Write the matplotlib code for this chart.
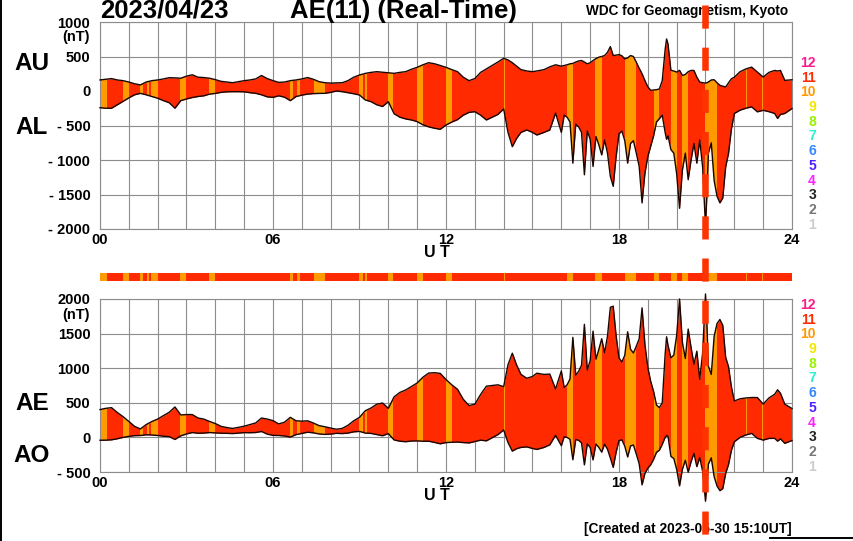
"""
AE(11) real-time geomagnetic index plot (WDC Kyoto style).

Top panel: AU / AL envelope, bottom panel: AE / AO envelope,
both shaded by number of contributing stations.
"""

import matplotlib
matplotlib.use("Agg")  # headless
import matplotlib.pyplot as plt
import numpy as np
from matplotlib.lines import Line2D
from matplotlib.patches import Rectangle
from matplotlib.transforms import blended_transform_factory

plt.rcParams["font.family"] = ["Liberation Sans", "DejaVu Sans"]
plt.rcParams["font.weight"] = "bold"

# --- data --------------------------------------------------------------
ut = [0.0, 0.2, 0.4, 0.6, 0.8, 1.0, 1.2, 1.4, 1.6, 1.8,
      2.0, 2.2, 2.4, 2.6, 2.8, 3.0, 3.2, 3.4, 3.6, 3.8,
      4.0, 4.2, 4.4, 4.6, 4.8, 5.0, 5.2, 5.4, 5.6, 5.8,
      6.0, 6.2, 6.4, 6.6, 6.8, 7.0, 7.2, 7.4, 7.6, 7.8,
      8.0, 8.2, 8.4, 8.6, 8.8, 9.0, 9.2, 9.4, 9.6, 9.8,
      10.0, 10.2, 10.4, 10.6, 10.8, 11.0, 11.2, 11.4, 11.6, 11.8,
      12.0, 12.2, 12.4, 12.6, 12.8, 13.0, 13.2, 13.4, 13.6, 13.8,
      14.0, 14.15, 14.3, 14.45, 14.6, 14.8, 15.0, 15.15, 15.4, 15.6, 15.8,
      16.0, 16.1, 16.2, 16.3, 16.4, 16.5, 16.6, 16.7, 16.8, 16.9,
      17.0, 17.1, 17.2, 17.3, 17.4, 17.5, 17.6, 17.7, 17.8, 17.9,
      18.0, 18.1, 18.2, 18.3, 18.4, 18.5, 18.6, 18.7, 18.8, 18.9,
      19.0, 19.1, 19.2, 19.3, 19.4, 19.5, 19.6, 19.65, 19.7, 19.8, 19.9,
      20.0, 20.1, 20.2, 20.3, 20.4, 20.5, 20.6, 20.7, 20.8, 20.9,
      21.0, 21.05, 21.1, 21.2, 21.3, 21.4, 21.5, 21.6, 21.7, 21.8, 21.9,
      22.0, 22.2, 22.4, 22.6, 22.8, 23.0, 23.2, 23.4, 23.5, 23.6, 23.75, 24.0]

au = [160, 170, 180, 160, 150, 130, 105, 88, 130, 150,
      160, 175, 193, 190, 185, 215, 235, 200, 195, 185,
      165, 140, 130, 120, 135, 150, 160, 175, 225, 180,
      150, 125, 130, 150, 160, 175, 195, 170, 135, 120,
      115, 118, 120, 150, 200, 232, 255, 270, 280, 272,
      265, 256, 270, 280, 315, 343, 380, 410, 395, 370,
      343, 310, 280, 200, 150, 180, 270, 320, 370, 420,
      474, 450, 410, 360, 310, 290, 280, 290, 310, 350, 380,
      360, 370, 380, 394, 400, 420, 435, 442, 420, 394,
      410, 442, 470, 490, 500, 514, 560, 643, 514, 520,
      528, 510, 466, 480, 514, 500, 418, 330, 250, 150,
      60, 10, 15, 19, 30, 150, 600, 754, 682, 300, 290,
      274, 300, 226, 240, 280, 298, 298, 200, 130, 120,
      115, 120, 130, 160, 163, 120, 82, 70, 58, 120, 178,
      200, 280, 320, 346, 274, 202, 270, 298, 290, 298, 154, 163]

al = [-242, -250, -250, -200, -150, -100, -55, -34, -55, -80,
      -105, -140, -170, -250, -140, -115, -95, -80, -70, -45,
      -35, -20, -12, -10, -10, -12, -25, -34, -55, -85,
      -92, -70, -90, -140, -80, -60, -45, -38, -35, -34,
      -20, 0, -10, -25, -40, -58, -130, -155, -200, -225,
      -155, -330, -380, -405, -420, -444, -490, -520, -540, -555,
      -493, -450, -415, -350, -310, -300, -350, -420, -380, -340,
      -260, -600, -807, -686, -600, -565, -600, -638, -600, -565, -320,
      -600, -350, -380, -450, -1046, -480, -520, -600, -1214, -580,
      -700, -1094, -660, -780, -926, -710, -900, -1238, -1382, -950,
      -620, -580, -720, -1046, -760, -720, -900, -1094, -1622, -1190,
      -950, -800, -650, -450, -400, -350, -600, -700, -650, -850, -900,
      -1200, -1700, -1142, -900, -1286, -1000, -760, -1046, -710, -1100,
      -1958, -1500, -900, -750, -1300, -1526, -1622, -1550, -1100, -900, -550,
      -326, -278, -250, -230, -302, -280, -300, -326, -398, -340, -326, -254]

# intervals (UT hours) where only 10 stations contributed; the rest are 11
ten_station_spans = [(0.0, 0.23), (0.8, 1.0), (1.38, 1.48), (1.63, 1.7),
                     (1.78, 2.0), (2.78, 3.0), (3.78, 4.0), (6.6, 6.7),
                     (6.83, 6.93), (7.42, 7.8), (9.0, 9.12), (9.2, 9.25),
                     (10.0, 10.17), (11.0, 11.2), (12.0, 12.2), (14.0, 14.03),
                     (16.2, 16.4), (17.17, 17.4), (18.2, 18.6), (19.2, 19.4),
                     (19.8, 20.0), (20.2, 20.4), (21.0, 21.4), (22.4, 22.45),
                     (22.95, 23.0)]

marker_ut = 21.0  # current-time marker

station_labels = ["12", "11", "10", "9", "8", "7", "6", "5", "4", "3", "2", "1"]
station_colors = ["#ff1a8c", "#ff2a00", "#ff9900", "#f2e600", "#99f000", "#2ef0d0",
                  "#3388ff", "#5020ff", "#ff22ff", "#222222", "#777777", "#cccccc"]

RED = "#ff2a00"
ORANGE = "#ff9a00"
EDGE = "#1a0500"
GRID = "#8c8c8c"

W, H = 854, 541


def fx(x):
    return x / W


def fy(y):
    return 1 - y / H


def draw_envelope(ax, upper, lower, yticks, ylabels):
    poly = ax.fill_between(ut, lower, upper, color=RED, lw=0, clip_on=False, zorder=2)
    path = poly.get_paths()[0]
    for s, e in ten_station_spans:
        r = Rectangle((s, -5000), e - s, 10000, facecolor=ORANGE, lw=0, zorder=2.1)
        ax.add_patch(r)
        r.set_clip_box(None)
        r.set_clip_path(path, ax.transData)
    ax.plot(ut, upper, color=EDGE, lw=1.0, clip_on=False, zorder=3)
    ax.plot(ut, lower, color=EDGE, lw=1.0, clip_on=False, zorder=3)

    ax.set_xlim(0, 24)
    ax.set_ylim(yticks[0], yticks[-1])
    ax.set_xticks(range(0, 25, 6))
    ax.set_xticklabels(["00", "06", "12", "18", "24"], fontsize=10.5, fontweight="bold")
    ax.set_xticks(range(25), minor=True)
    ax.set_yticks(yticks)
    ax.set_yticklabels(ylabels, fontsize=10.5, fontweight="bold")
    ax.tick_params(which="both", length=0)
    ax.tick_params(axis="y", pad=7)
    ax.tick_params(axis="x", pad=3)
    ax.grid(which="both", axis="x", color=GRID, lw=0.8)
    ax.grid(which="major", axis="y", color=GRID, lw=0.8)
    ax.set_axisbelow(True)
    for sp in ax.spines.values():
        sp.set_color(GRID)
        sp.set_linewidth(0.8)


def station_key(fig, y_top):
    for i, (lab, col) in enumerate(zip(station_labels, station_colors)):
        fig.text(fx(816), fy(y_top + i * 14.7), lab, color=col, fontsize=10,
                 fontweight="bold", ha="right", va="center")


fig = plt.figure(figsize=(W / 100, H / 100), dpi=100)

ax_top = fig.add_axes([fx(100), fy(229), fx(692), 207 / H])
ax_bar = fig.add_axes([fx(100), fy(281), fx(692), 8 / H])
ax_bot = fig.add_axes([fx(100), fy(472), fx(692), 173 / H])

au_arr = np.array(au, dtype=float)
al_arr = np.array(al, dtype=float)
ae = au_arr - al_arr
ao = (au_arr + al_arr) / 2

draw_envelope(ax_top, au_arr, al_arr, [-2000, -1500, -1000, -500, 0, 500, 1000],
              ["- 2000", "- 1500", "- 1000", "- 500", "0", "500", "1000"])
draw_envelope(ax_bot, ae, ao, [-500, 0, 500, 1000, 1500, 2000],
              ["- 500", "0", "500", "1000", "1500", "2000"])

# station-count strip between the panels
ax_bar.axvspan(0, 24, color=RED, lw=0)
for s, e in ten_station_spans:
    ax_bar.axvspan(s, e, color=ORANGE, lw=0)
ax_bar.set_xlim(0, 24)
ax_bar.set_ylim(0, 1)
ax_bar.axis("off")

# texts
fig.text(fx(100), fy(18), "2023/04/23", fontsize=18.5, fontweight="bold", va="baseline")
fig.text(fx(290), fy(18), "AE(11) (Real-Time)", fontsize=18.5, fontweight="bold", va="baseline")
fig.text(fx(788), fy(15), "WDC for Geomagnetism, Kyoto", fontsize=9.8,
         fontweight="bold", ha="right", va="baseline")
fig.text(fx(792), fy(533), "[Created at 2023-05-30 15:10UT]", fontsize=9.9,
         fontweight="bold", ha="right", va="baseline")
for y in (37, 315):
    fig.text(fx(90), fy(y), "(nT)", fontsize=10.5, fontweight="bold", ha="right", va="center")
for y in (253, 496):
    fig.text(fx(437), fy(y), "U T", fontsize=11.5, fontweight="bold", ha="center", va="center")
for lab, y in (("AU", 64), ("AL", 128), ("AE", 403), ("AO", 456)):
    fig.text(fx(32), fy(y), lab, fontsize=17.5, fontweight="bold", ha="center", va="center")

station_key(fig, 63)
station_key(fig, 305)

# current time marker, drawn across the whole figure
trans = blended_transform_factory(ax_top.transData, fig.transFigure)
fig.add_artist(Line2D([marker_ut, marker_ut], [fy(5), 0], transform=trans,
                      color="#ff3300", lw=4.7, linestyle=(0, (3.54, 2.92)),
                      dash_capstyle="butt", zorder=10))

# frame remnants at the edge of the screenshot
fig.add_artist(Line2D([fx(1.5), fx(1.5)], [0, 1], color="black", lw=1.4, zorder=10))
fig.add_artist(Line2D([fx(770), 1], [fy(538), fy(538)], color="black", lw=1.4, zorder=10))

fig.savefig("out.png", dpi=100)
plt.close(fig)
